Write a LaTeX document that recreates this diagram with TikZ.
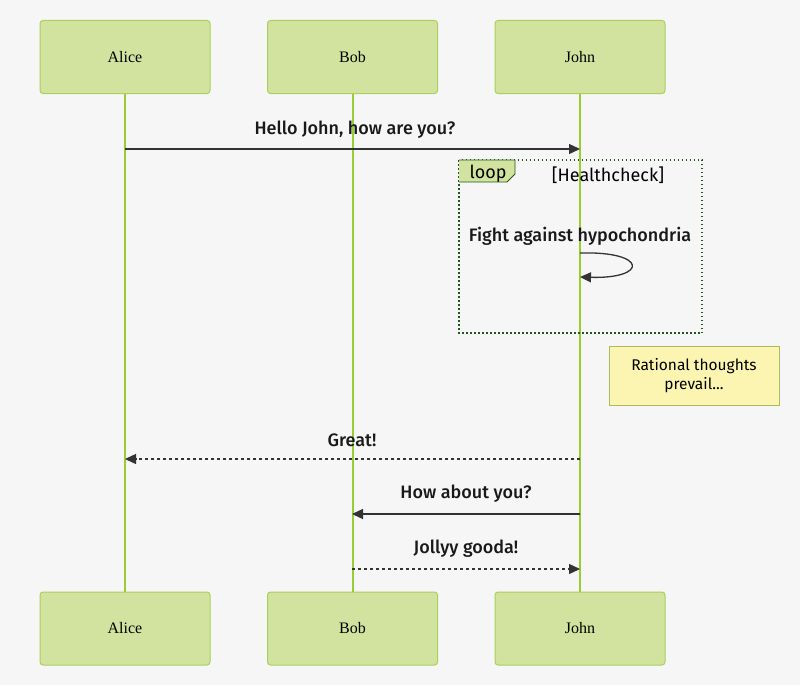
\documentclass[tikz,border=0pt]{standalone}
\usepackage{fontspec}
\setmainfont{Liberation Serif}
\newfontfamily\msgfont{Fira Sans}[UprightFont={* Medium},BoldFont={* Medium}]
\newfontfamily\regfont{Fira Sans}
\usetikzlibrary{arrows.meta}
\definecolor{bgc}{HTML}{F6F6F6}
\definecolor{actfill}{HTML}{D2E3A0}
\definecolor{actline}{HTML}{AAD05A}
\definecolor{lifec}{HTML}{9ACD32}
\definecolor{arrc}{HTML}{333333}
\definecolor{loopc}{HTML}{1F5A1F}
\definecolor{notefill}{HTML}{FCF5B1}
\definecolor{noteline}{HTML}{AABB66}
\tikzset{
  actor/.style={draw=actline, fill=actfill, rounded corners=3pt, line width=1pt,
    minimum width=170pt, minimum height=73pt, inner sep=0pt,
    font=\fontsize{16}{18}\selectfont},
  lifeline/.style={draw=lifec, line width=2pt},
  msg/.style={draw=arrc, line width=1.3pt, -{Triangle[length=11pt,width=10pt]}},
  dmsg/.style={msg, dash pattern=on 3pt off 3pt},
  msglabel/.style={font=\msgfont\fontsize{18}{21}\selectfont, text=black!90, inner sep=0pt},
}
\begin{document}
\begin{tikzpicture}[x=1pt,y=-1pt]
\fill[bgc] (0,0) rectangle (800,685);
\useasboundingbox (0,0) rectangle (800,685);
% actors
\node[actor] (aliceT) at (125,57) {Alice};
\node[actor] (bobT) at (352.5,57) {Bob};
\node[actor] (johnT) at (580,57) {John};
\node[actor] (aliceB) at (125,628.5) {Alice};
\node[actor] (bobB) at (352.5,628.5) {Bob};
\node[actor] (johnB) at (580,628.5) {John};
% lifelines
\draw[lifeline] (aliceT.south) -- (aliceB.north);
\draw[lifeline] (bobT.south) -- (bobB.north);
\draw[lifeline] (johnT.south) -- (johnB.north);
% loop frame
\draw[loopc, line width=1.3pt, dash pattern=on 1.5pt off 2.5pt] (459,160) rectangle (702,333);
\fill[actfill] (459,160) -- (515,160) -- (515,174) -- (507,182) -- (459,182) -- cycle;
\draw[loopc, line width=0.8pt] (459,160) -- (515,160) -- (515,174) -- (507,182) -- (459,182);
\node[font=\regfont\fontsize{18}{21}\selectfont, anchor=center, inner sep=0pt] (looplbl) at (488,174) {loop};
\node[font=\regfont\fontsize{18}{21}\selectfont, anchor=center, inner sep=0pt] (cond) at (608,175) {[Healthcheck]};
% coordinates for messages
\coordinate (m1a) at (125,149); \coordinate (m1b) at (580,149);
\coordinate (s1a) at (580,253); \coordinate (s1b) at (580,277);
\coordinate (m2a) at (580,459); \coordinate (m2b) at (125,459);
\coordinate (m3a) at (580,514); \coordinate (m3b) at (352,514);
\coordinate (m4a) at (352,569); \coordinate (m4b) at (580,569);
% messages
\node[msglabel] (l1) at (355,130) {Hello John, how are you?};
\draw[msg] (m1a) -- (m1b);
\node[msglabel] (ls) at (580,236) {Fight against hypochondria};
\draw[msg] (s1a) .. controls (648,251) and (648,279) .. (s1b);
% note
\node[draw=noteline, fill=notefill, line width=0.8pt, minimum width=170pt, minimum height=59pt,
  align=center, inner sep=0pt, font=\regfont\fontsize{15.5}{19}\selectfont] (note) at (694,375.5)
  {Rational thoughts\\prevail...};
\node[msglabel] (l2) at (352,440) {Great!};
\draw[dmsg] (m2a) -- (m2b);
\node[msglabel] (l3) at (466,494) {How about you?};
\draw[msg] (m3a) -- (m3b);
\node[msglabel] (l4) at (466,549) {Jollyy gooda!};
\draw[dmsg] (m4a) -- (m4b);
\end{tikzpicture}
\end{document}
